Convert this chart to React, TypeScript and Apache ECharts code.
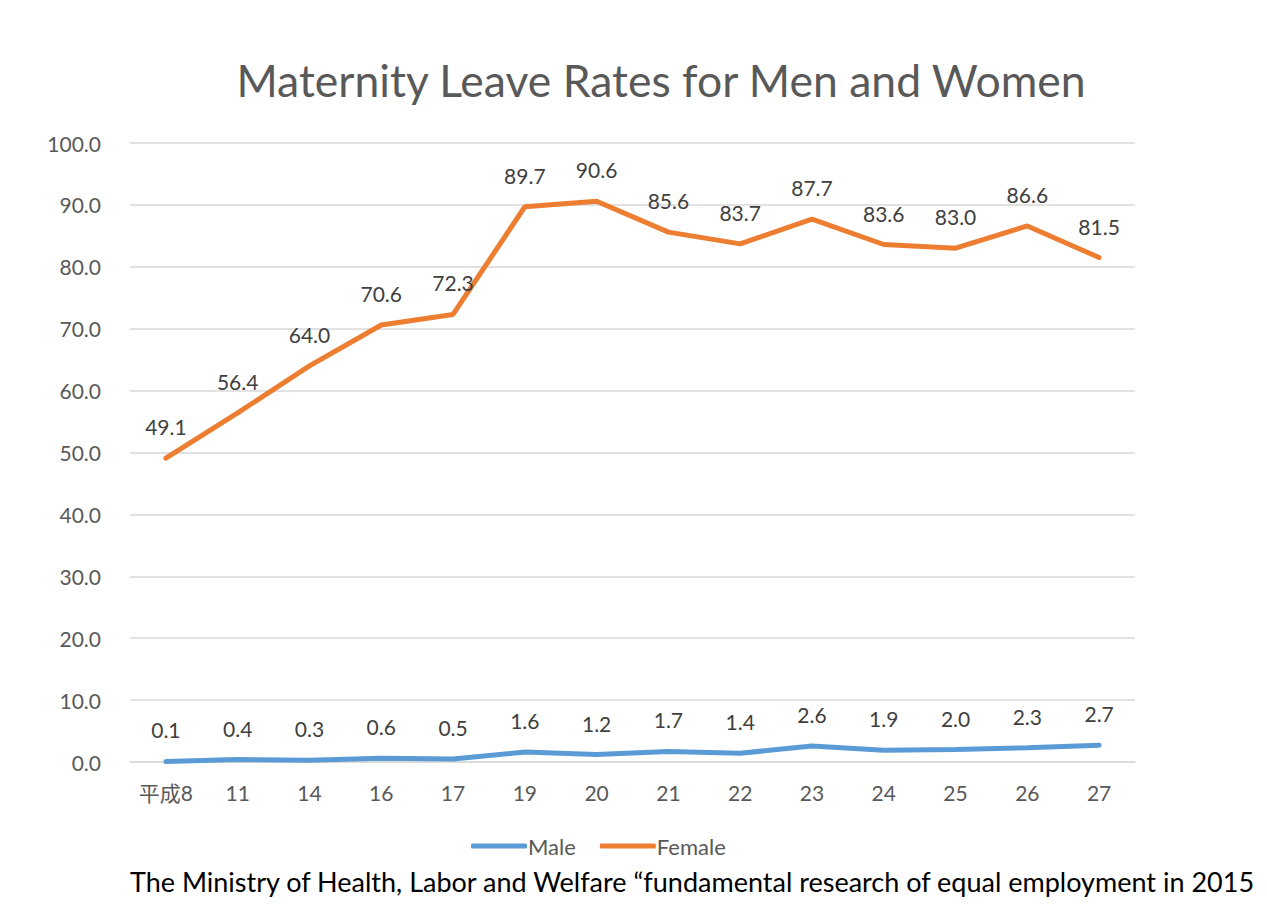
import React, { useEffect, useRef } from "react";
import * as echarts from "echarts";

const categories = ["平成8", "11", "14", "16", "17", "19", "20", "21", "22", "23", "24", "25", "26", "27"];
const maleValues = [0.1, 0.4, 0.3, 0.6, 0.5, 1.6, 1.2, 1.7, 1.4, 2.6, 1.9, 2.0, 2.3, 2.7];
const femaleValues = [49.1, 56.4, 64.0, 70.6, 72.3, 89.7, 90.6, 85.6, 83.7, 87.7, 83.6, 83.0, 86.6, 81.5];
const titleText = "Maternity Leave Rates for Men and Women";
const sourceText = "The Ministry of Health, Labor and Welfare \u201cfundamental research of equal employment in 2015";

const FONT = "Lato, 'Open Sans', 'Noto Sans CJK JP', sans-serif";

export default function App() {
  const ref = useRef<HTMLDivElement>(null);
  useEffect(() => {
    if (!ref.current) return;
    const chart = echarts.init(ref.current, undefined, { renderer: "svg" });
    const labelStyle = {
      show: true,
      position: "top" as const,
      distance: 20,
      fontSize: 21,
      color: "#404040",
      opacity: 1,
      fontFamily: FONT,
      formatter: (p: any) => Number(p.value).toFixed(1),
    };
    chart.setOption({
      animation: false,
      backgroundColor: "#ffffff",
      textStyle: { fontFamily: FONT },
      title: {
        text: titleText,
        left: 656,
        textAlign: "center",
        top: 52,
        textStyle: { fontSize: 44.5, fontWeight: "normal", color: "#595959", fontFamily: FONT },
      },
      grid: { left: 130, right: 132, top: 143, bottom: 147, containLabel: false },
      legend: {
        bottom: 47,
        left: 466,
        itemWidth: 56,
        itemHeight: 5,
        itemGap: 24,
        icon: "roundRect",
        textStyle: { fontSize: 22, color: "#595959", fontFamily: FONT, padding: [0, 0, 0, -4] },
        data: ["Male", "Female"],
      },
      xAxis: {
        type: "category",
        data: categories,
        boundaryGap: true,
        axisLine: { show: true, lineStyle: { color: "#D9D9D9", width: 1.5 } },
        axisTick: { show: false },
        axisLabel: { fontSize: 21, color: "#595959", margin: 20, fontFamily: FONT },
      },
      yAxis: {
        type: "value",
        min: 0,
        max: 100,
        interval: 10,
        axisLine: { show: false },
        axisTick: { show: false },
        splitLine: { lineStyle: { color: "#D9D9D9", width: 1.5 } },
        axisLabel: {
          fontSize: 21,
          color: "#595959",
          margin: 29,
          fontFamily: FONT,
          formatter: (v: number) => v.toFixed(1),
        },
      },
      series: [
        {
          name: "Male",
          type: "line",
          data: maleValues,
          symbol: "circle",
          symbolSize: 2,
          showSymbol: true,
          lineStyle: { color: "#5B9BD5", width: 5, cap: "round" },
          itemStyle: { color: "#5B9BD5" },
          label: labelStyle,
        },
        {
          name: "Female",
          type: "line",
          data: femaleValues,
          symbol: "circle",
          symbolSize: 2,
          showSymbol: true,
          lineStyle: { color: "#ED7D31", width: 5, cap: "round" },
          itemStyle: { color: "#ED7D31" },
          label: labelStyle,
        },
      ],
      graphic: [
        {
          type: "text",
          left: 130,
          top: 868,
          style: { text: sourceText, fontSize: 27, fill: "#000000", fontFamily: FONT },
        },
      ],
    });
    return () => chart.dispose();
  }, []);
  return (
    <div
      ref={ref}
      style={{ position: "fixed", left: 0, top: 0, width: 1267, height: 909, overflow: "hidden" }}
    />
  );
}
